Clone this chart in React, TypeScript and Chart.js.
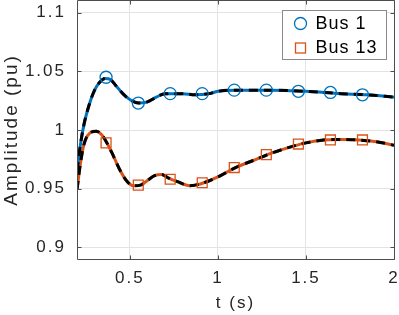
import React, { useEffect, useRef } from "react";
import { Chart, registerables } from "chart.js";

Chart.register(...registerables);

// ---- data ----
const X_TICKS = [0.5, 1, 1.5, 2];
const X_TICK_LABELS = ["0.5", "1", "1.5", "2"];
const Y_TICKS = [0.9, 0.95, 1, 1.05, 1.1];
const Y_TICK_LABELS = ["0.9", "0.95", "1", "1.05", "1.1"];

// Bus 1 response (continuous trace)
const BUS1_T = [0.2, 0.22, 0.24, 0.27, 0.3, 0.33, 0.36, 0.39, 0.42, 0.46, 0.5, 0.55, 0.6, 0.65, 0.7, 0.75, 0.8, 0.87, 0.95, 1.0, 1.1, 1.3, 1.5, 1.7, 1.85, 2.0];
const BUS1_V = [0.965, 0.988, 1.005, 1.022, 1.034, 1.041, 1.044, 1.043, 1.038, 1.031, 1.026, 1.023, 1.024, 1.028, 1.031, 1.031, 1.031, 1.03, 1.031, 1.033, 1.034, 1.034, 1.033, 1.031, 1.03, 1.028];

// Bus 13 response (continuous trace)
const BUS13_T = [0.2, 0.22, 0.24, 0.27, 0.31, 0.34, 0.37, 0.4, 0.44, 0.48, 0.52, 0.56, 0.6, 0.64, 0.68, 0.72, 0.77, 0.84, 0.9, 1.0, 1.1, 1.2, 1.3, 1.4, 1.5, 1.6, 1.7, 1.8, 1.9, 2.0];
const BUS13_V = [0.949, 0.972, 0.988, 0.997, 0.999, 0.996, 0.989, 0.98, 0.967, 0.957, 0.9525, 0.953, 0.957, 0.961, 0.962, 0.959, 0.956, 0.9525, 0.954, 0.96, 0.968, 0.974, 0.98, 0.985, 0.989, 0.9915, 0.992, 0.9915, 0.99, 0.987];

// Marker samples
const MARK_T = [0.365, 0.548, 0.729, 0.911, 1.093, 1.275, 1.457, 1.639, 1.821];
const MARK_BUS1 = [1.045, 1.023, 1.031, 1.031, 1.034, 1.034, 1.033, 1.032, 1.03];
const MARK_BUS13 = [0.989, 0.953, 0.958, 0.955, 0.968, 0.979, 0.988, 0.9915, 0.9915];

const SERIES_NAMES = ["Bus 1", "Bus 13"];

// ---- styles ----
const BLUE = "#0072BD";
const ORANGE = "#D95319";
const FONT = "'Liberation Sans', Arial, Helvetica, sans-serif";
const TEXT = "#262626";

const pts = (xs: number[], ys: number[]) => xs.map((x, i) => ({ x, y: ys[i] }));

const zeroPad = (s: any) => {
  s.paddingTop = 0;
  s.paddingBottom = 0;
  s.paddingLeft = 0;
  s.paddingRight = 0;
};

export default function App() {
  const ref = useRef<HTMLCanvasElement | null>(null);

  useEffect(() => {
    if (!ref.current) return;

    const framePlugin = {
      id: "matlabFrame",
      beforeDraw(chart: any) {
        chart.ctx.letterSpacing = "2px";
      },
      afterDatasetsDraw(chart: any) {
        const { ctx, chartArea } = chart;
        const { left, right, top, bottom } = chartArea;
        const xs = chart.scales.x;
        const ys = chart.scales.y;
        const L = Math.round(left) + 0.5;
        const R = Math.round(right) + 0.5;
        const T = Math.round(top) - 0.5;
        const B = Math.round(bottom) + 0.5;
        const tl = 4;
        ctx.save();
        ctx.strokeStyle = "#4d4d4d";
        ctx.lineWidth = 1;
        ctx.beginPath();
        ctx.rect(L, T, R - L, B - T);
        for (const v of X_TICKS) {
          const p = Math.round(xs.getPixelForValue(v)) + 0.5;
          ctx.moveTo(p, B);
          ctx.lineTo(p, B - tl);
          ctx.moveTo(p, T);
          ctx.lineTo(p, T + tl);
        }
        for (const v of Y_TICKS) {
          const p = Math.round(ys.getPixelForValue(v)) + 0.5;
          ctx.moveTo(L, p);
          ctx.lineTo(L + tl, p);
          ctx.moveTo(R, p);
          ctx.lineTo(R - tl, p);
        }
        ctx.stroke();

        // legend box
        const bw = 104;
        const bh = 49;
        const bx = Math.round(right) - 8 - bw + 0.5;
        const by = Math.round(top) + 9 + 0.5;
        ctx.fillStyle = "#ffffff";
        ctx.fillRect(bx, by, bw, bh);
        ctx.strokeStyle = "#8a8a8a";
        ctx.strokeRect(bx, by, bw, bh);

        const mx = bx + 18;
        const row1 = by + 13;
        const row2 = by + 37.5;
        ctx.lineWidth = 1.3;
        ctx.strokeStyle = BLUE;
        ctx.beginPath();
        ctx.arc(mx, row1, 6, 0, Math.PI * 2);
        ctx.stroke();
        ctx.strokeStyle = ORANGE;
        ctx.strokeRect(mx - 5, row2 - 5, 10, 10);

        ctx.letterSpacing = "1px";
        ctx.fillStyle = "#000";
        ctx.font = `18px ${FONT}`;
        ctx.textAlign = "left";
        ctx.textBaseline = "middle";
        ctx.fillText(SERIES_NAMES[0], bx + 33, row1 + 0.5);
        ctx.fillText(SERIES_NAMES[1], bx + 33, row2 + 0.5);
        ctx.restore();
      },
    };

    const lineBase = {
      pointRadius: 0,
      pointHoverRadius: 0,
      borderWidth: 3,
      cubicInterpolationMode: "monotone" as const,
      borderCapStyle: "butt" as const,
      fill: false,
    };

    const chart = new Chart(ref.current, {
      type: "line",
      data: {
        datasets: [
          {
            label: SERIES_NAMES[0] + " markers",
            data: pts(MARK_T, MARK_BUS1),
            showLine: false,
            pointStyle: "circle",
            pointRadius: 6,
            pointBorderWidth: 1.3,
            pointBorderColor: BLUE,
            pointBackgroundColor: "rgba(0,0,0,0)",
            borderColor: BLUE,
          },
          {
            label: SERIES_NAMES[1] + " markers",
            data: pts(MARK_T, MARK_BUS13),
            showLine: false,
            pointStyle: "rect",
            pointRadius: 7,
            pointBorderWidth: 1.3,
            pointBorderColor: ORANGE,
            pointBackgroundColor: "rgba(0,0,0,0)",
            borderColor: ORANGE,
          },
          {
            ...lineBase,
            label: SERIES_NAMES[0] + " dashed",
            data: pts(BUS1_T, BUS1_V),
            borderColor: "#000000",
            borderDash: [9, 6],
          },
          {
            ...lineBase,
            label: SERIES_NAMES[1] + " dashed",
            data: pts(BUS13_T, BUS13_V),
            borderColor: "#000000",
            borderDash: [9, 6],
          },
          {
            ...lineBase,
            label: SERIES_NAMES[0],
            data: pts(BUS1_T, BUS1_V),
            borderColor: BLUE,
          },
          {
            ...lineBase,
            label: SERIES_NAMES[1],
            data: pts(BUS13_T, BUS13_V),
            borderColor: ORANGE,
          },
        ],
      },
      options: {
        responsive: false,
        animation: false,
        devicePixelRatio: 1,
        events: [],
        layout: { autoPadding: false, padding: { top: 1, right: 5, left: 0, bottom: 0 } },
        plugins: {
          legend: { display: false },
          tooltip: { enabled: false },
          title: { display: false },
        },
        scales: {
          x: {
            type: "linear",
            min: 0.2,
            max: 2,
            afterBuildTicks: (s: any) => {
              s.ticks = X_TICKS.map((v) => ({ value: v }));
            },
            afterFit: (s: any) => {
              s.height = 56;
              zeroPad(s);
            },
            ticks: {
              callback: (_v: any, i: number) => X_TICK_LABELS[i],
              font: { family: FONT, size: 17 },
              color: TEXT,
              padding: 9,
              maxRotation: 0,
              minRotation: 0,
              autoSkip: false,
            },
            grid: { color: "#e3e3e3", drawTicks: false, lineWidth: 1 },
            border: { display: false },
            title: {
              display: true,
              text: "t (s)",
              font: { family: FONT, size: 17 },
              color: TEXT,
              padding: { top: 0, bottom: 1 },
            },
          },
          y: {
            type: "linear",
            min: 0.89,
            max: 1.11,
            afterBuildTicks: (s: any) => {
              s.ticks = Y_TICKS.map((v) => ({ value: v }));
            },
            afterFit: (s: any) => {
              s.width = 77;
              zeroPad(s);
            },
            ticks: {
              callback: (_v: any, i: number) => Y_TICK_LABELS[i],
              font: { family: FONT, size: 17 },
              color: TEXT,
              padding: 11,
              autoSkip: false,
            },
            grid: { color: "#e3e3e3", drawTicks: false, lineWidth: 1 },
            border: { display: false },
            title: {
              display: true,
              text: "Amplitude (pu)",
              font: { family: FONT, size: 19 },
              color: TEXT,
              padding: { top: 0, bottom: 0 },
            },
          },
        },
      },
      plugins: [framePlugin],
    });

    return () => chart.destroy();
  }, []);

  return (
    <div style={{ position: "absolute", left: 0, top: 0, width: 399, height: 315, background: "#fff" }}>
      <canvas ref={ref} width={399} height={315} style={{ display: "block", width: 399, height: 315 }} />
    </div>
  );
}
